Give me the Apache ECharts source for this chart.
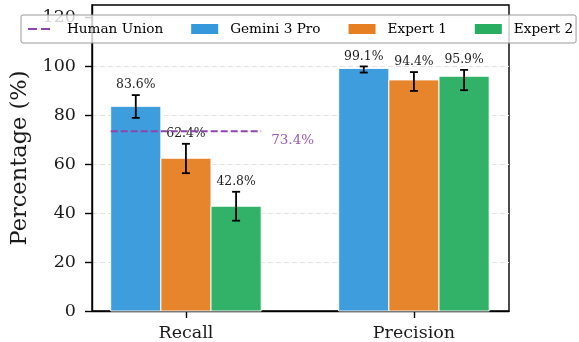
<!DOCTYPE html>
<html>
<head>
<meta charset="utf-8">
<script src="https://cdn.jsdelivr.net/npm/echarts@6/dist/echarts.min.js"></script>
<style>
  html, body { margin: 0; padding: 0; background: #fff; }
  #chart { width: 579px; height: 342px; }
</style>
</head>
<body>
<div id="chart"></div>
<script>
// Metric groups on the x axis
const categories = ['Recall', 'Precision'];

// Model / annotator names
const seriesNames = ['Gemini 3 Pro', 'Expert 1', 'Expert 2'];

// Mean percentages per metric (Recall, Precision)
const geminiValues = [83.6, 99.1];
const expert1Values = [62.4, 94.4];
const expert2Values = [42.8, 95.9];

// Confidence interval bounds [low, high] per metric
const geminiCI = [[78.9, 88.2], [97.4, 99.9]];
const expert1CI = [[56.3, 68.3], [89.9, 97.6]];
const expert2CI = [[36.9, 48.7], [90.2, 98.5]];

// Human union reference recall
const humanUnionRecall = 73.4;

// Y axis tick values
const yTicks = [0, 20, 40, 60, 80, 100, 120];

const colors = ['#3498db', '#e67e22', '#27ae60'];
const unionColor = '#8e44ad';
const FONT = 'DejaVu Serif';
const BAR_W = 0.22;
const UNION_HALF_SPAN = 0.33;

const valueSets = [geminiValues, expert1Values, expert2Values];
const ciSets = [geminiCI, expert1CI, expert2CI];

function barSeries(k) {
  const offset = (k - 1) * BAR_W;
  return {
    type: 'custom',
    name: seriesNames[k],
    color: colors[k],
    z: 3,
    data: categories.map((c, i) => [i, valueSets[k][i], ciSets[k][i][0], ciSets[k][i][1]]),
    renderItem(params, api) {
      const c = api.value(0), v = api.value(1), lo = api.value(2), hi = api.value(3);
      const p0 = api.coord([c + offset - BAR_W / 2, 0]);
      const p1 = api.coord([c + offset + BAR_W / 2, v]);
      const eLo = api.coord([c + offset, lo]);
      const eHi = api.coord([c + offset, hi]);
      const cap = 4;
      return {
        type: 'group',
        children: [
          {
            type: 'rect',
            shape: { x: p0[0], y: p1[1], width: p1[0] - p0[0], height: p0[1] - p1[1] },
            style: { fill: colors[k], opacity: 0.95, stroke: '#ffffff', lineWidth: 1 }
          },
          {
            type: 'line',
            shape: { x1: eLo[0], y1: eLo[1], x2: eHi[0], y2: eHi[1] },
            style: { stroke: '#000', lineWidth: 1.8 }
          },
          {
            type: 'line',
            shape: { x1: eLo[0] - cap, y1: eLo[1], x2: eLo[0] + cap, y2: eLo[1] },
            style: { stroke: '#000', lineWidth: 1.8 }
          },
          {
            type: 'line',
            shape: { x1: eHi[0] - cap, y1: eHi[1], x2: eHi[0] + cap, y2: eHi[1] },
            style: { stroke: '#000', lineWidth: 1.8 }
          },
          {
            type: 'text',
            style: {
              x: eHi[0], y: eHi[1] - 10,
              text: v.toFixed(1) + '%',
              align: 'center', verticalAlign: 'middle',
              fill: '#222', font: '12.4px "' + FONT + '"'
            }
          }
        ]
      };
    }
  };
}

const chart = echarts.init(document.getElementById('chart'), null, { renderer: 'canvas' });

chart.setOption({
  animation: false,
  backgroundColor: '#fff',
  grid: {
    left: 92, right: 70, top: 5, bottom: 31,
    show: true, borderColor: '#000', borderWidth: 1.4, backgroundColor: 'transparent'
  },
  legend: {
    left: 21, top: 15,
    padding: [7, 3, 7, 7],
    itemWidth: 27, itemHeight: 10, itemGap: 28,
    backgroundColor: 'rgba(255,255,255,0.8)',
    borderColor: '#999', borderWidth: 1, borderRadius: 2,
    textStyle: { fontFamily: FONT, fontSize: 13.6, color: '#000', padding: [0, 0, 0, 7] },
    data: [
      { name: 'Human Union', icon: 'path://M0,0H9V2H0Z M13,0H22V2H13Z M27,0 M27,2' },
      { name: seriesNames[0], icon: 'rect' },
      { name: seriesNames[1], icon: 'rect' },
      { name: seriesNames[2], icon: 'rect' }
    ]
  },
  xAxis: {
    type: 'value',
    min: -0.412, max: 1.417,
    splitLine: { show: false },
    axisLine: { show: true, onZero: false, lineStyle: { color: '#000', width: 1.4 } },
    axisTick: { show: true, customValues: [0, 1], length: 7, lineStyle: { color: '#000', width: 1.4 } },
    axisLabel: {
      customValues: [0, 1],
      formatter: v => categories[Math.round(v)],
      fontFamily: FONT, fontSize: 17.5, color: '#1a1a1a', margin: 13
    }
  },
  yAxis: {
    type: 'value',
    min: 0, max: 125,
    name: 'Percentage (%)',
    nameLocation: 'middle',
    nameGap: 45,
    nameTextStyle: { fontFamily: FONT, fontSize: 22.5, color: '#1a1a1a' },
    axisLine: { show: true, onZero: false, lineStyle: { color: '#000', width: 1.4 } },
    axisTick: { show: true, customValues: yTicks, length: 7, lineStyle: { color: '#000', width: 1.4 } },
    axisLabel: {
      customValues: yTicks,
      fontFamily: FONT, fontSize: 17.5, color: '#1a1a1a', margin: 16
    },
    interval: 20,
    splitLine: { show: true, lineStyle: { color: '#e3e3e3', width: 1, type: [5, 3] } }
  },
  series: [
    {
      type: 'line',
      name: 'Human Union',
      color: unionColor,
      z: 5,
      symbol: 'none',
      data: [[0 - UNION_HALF_SPAN, humanUnionRecall], [0 + UNION_HALF_SPAN, humanUnionRecall]],
      lineStyle: { color: unionColor, width: 2, type: [7, 3] },
      endLabel: {
        show: true,
        formatter: p => p.value[1].toFixed(1) + '%',
        color: '#9b59b6',
        fontFamily: FONT, fontSize: 13.5,
        offset: [2, 9]
      }
    },
    barSeries(0),
    barSeries(1),
    barSeries(2)
  ]
});
</script>
</body>
</html>
